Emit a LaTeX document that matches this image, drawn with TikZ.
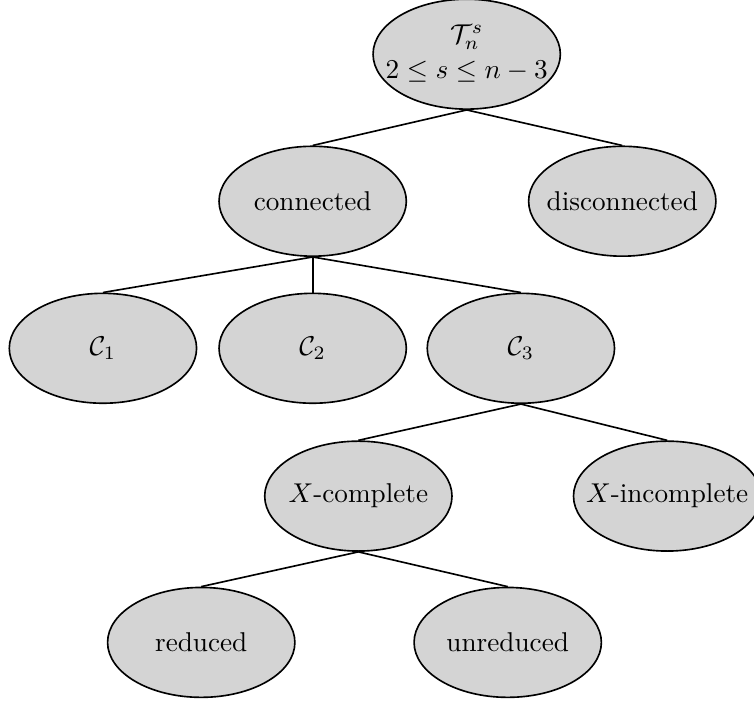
\documentclass[tikz,border=0pt]{standalone}
\usepackage{tikz}
\usepackage{color}
\usetikzlibrary{shapes.geometric}

\definecolor{nodefill}{gray}{0.83}
\newcommand{\nlabel}[1]{\makebox[0pt]{#1}}

\begin{document}
\begin{tikzpicture}[%
      tnode/.style={ellipse, draw=black, fill=nodefill, line width=0.6pt,
        minimum width=2.42cm, minimum height=1.42cm, inner sep=0pt},
      edge/.style={color=black, line width=0.6pt},
      ]
      \useasboundingbox (0,0) rectangle (9.742,-9.070);

      \node [tnode] (root) at (6.03,-0.70) {\nlabel{\begin{tabular}{@{}c@{}}$\mathcal{T}_n^s$\\[1pt] $2\leq s\leq n-3$\end{tabular}}};

      \node [tnode] (conn) at (4.04,-2.60) {\nlabel{connected}};
      \node [tnode] (disc) at (8.04,-2.60) {\nlabel{disconnected}};

      \node [tnode] (cone) at (1.33,-4.50) {\nlabel{$\mathcal{C}_1$}};
      \node [tnode] (ctwo) at (4.04,-4.50) {\nlabel{$\mathcal{C}_2$}};
      \node [tnode] (cthree) at (6.73,-4.50) {\nlabel{$\mathcal{C}_3$}};

      \node [tnode] (xcomp) at (4.63,-6.41) {\nlabel{$X$-complete}};
      \node [tnode] (xincomp) at (8.62,-6.41) {\nlabel{$X$-incomplete}};

      \node [tnode] (red) at (2.60,-8.30) {\nlabel{reduced}};
      \node [tnode] (unred) at (6.56,-8.30) {\nlabel{unreduced}};

      \draw [edge] (root.south) -- (conn.north);
      \draw [edge] (root.south) -- (disc.north);

      \draw [edge] (conn.south) -- (cone.north);
      \draw [edge] (conn.south) -- (ctwo.north);
      \draw [edge] (conn.south) -- (cthree.north);

      \draw [edge] (cthree.south) -- (xcomp.north);
      \draw [edge] (cthree.south) -- (xincomp.north);

      \draw [edge] (xcomp.south) -- (red.north);
      \draw [edge] (xcomp.south) -- (unred.north);
      \end{tikzpicture}
\end{document}
